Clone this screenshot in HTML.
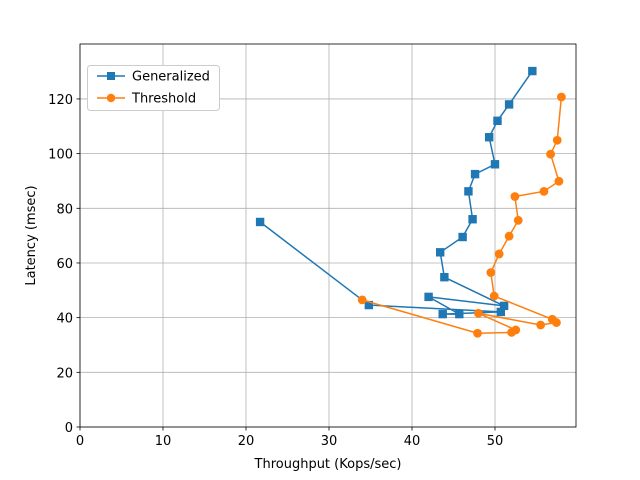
<!DOCTYPE html>
<html><head><meta charset="utf-8"><style>body{margin:0;background:#fff}svg{display:block;font-family:"DejaVu Sans","Liberation Sans",sans-serif}</style></head>
<body>
<svg id="c" width="640" height="480"></svg>
<script>
const xTicks=[0,10,20,30,40,50];
const yTicks=[0,20,40,60,80,100,120];
const genX=[54.5,51.7,50.3,49.3,50.0,47.6,46.8,47.3,46.1,43.4,43.9,51.1,42.0,45.7,43.7,50.7,34.8,21.7];
const genY=[130.2,118.0,112.0,106.0,96.1,92.5,86.2,76.0,69.5,63.9,54.8,44.3,47.6,41.3,41.3,42.1,44.6,75.0];
const thrX=[58.0,57.5,56.7,57.7,55.9,52.4,52.8,51.7,50.5,49.5,49.9,56.9,57.4,55.5,48.0,52.5,52.0,47.9,34.0];
const thrY=[120.7,104.9,99.8,89.9,86.2,84.3,75.6,69.8,63.3,56.5,47.9,39.4,38.2,37.3,41.6,35.5,34.6,34.3,46.5];
const L=80,R=576,T=44,B=427,XMAX=59.76,YMAX=140.1;
const sx=v=>L+v/XMAX*(R-L), sy=v=>B-v/YMAX*(B-T);
const svg=document.getElementById('c'),NS='http://www.w3.org/2000/svg';
function mk(t,a,p){const e=document.createElementNS(NS,t);for(const k in a)e.setAttribute(k,a[k]);(p||svg).appendChild(e);return e;}
xTicks.forEach(v=>{const x=sx(v);
 const g=mk('line',{x1:x,x2:x,y1:T,y2:B,stroke:'#b0b0b0','stroke-width':0.8});
 
 
 mk('line',{x1:x,x2:x,y1:B,y2:B+3.5,stroke:'#000','stroke-width':0.8});
 const t=mk('text',{x:x,y:B+18,'text-anchor':'middle','font-size':13});t.textContent=v;
 
 });
yTicks.forEach(v=>{const y=sy(v);
 const g=mk('line',{x1:L,x2:R,y1:y,y2:y,stroke:'#b0b0b0','stroke-width':0.8});
 
 
 mk('line',{x1:L-3.5,x2:L,y1:y,y2:y,stroke:'#000','stroke-width':0.8});
 const t=mk('text',{x:L-7,y:y+5,'text-anchor':'end','font-size':13});t.textContent=v;
 
 });
const fr=mk('rect',{x:L,y:T,width:R-L,height:B-T,fill:'none',stroke:'#000','stroke-width':0.8});


function series(xs,ys,col,sq,name){
 const pl=mk('polyline',{points:xs.map((v,i)=>sx(v)+','+sy(ys[i])).join(' '),fill:'none',stroke:col,'stroke-width':1.5});
 
 
 xs.forEach((v,i)=>{const x=sx(v),y=sy(ys[i]);
  const m=sq?mk('rect',{x:x-4.2,y:y-4.2,width:8.4,height:8.4,fill:col}):mk('circle',{cx:x,cy:y,r:4.4,fill:col});
  
  });
}
series(genX,genY,'#1f77b4',true,'generalized');
series(thrX,thrY,'#ff7f0e',false,'threshold');
const xl=mk('text',{x:(L+R)/2,y:468,'text-anchor':'middle','font-size':13});xl.textContent='Throughput (Kops/sec)';


const yl=mk('text',{x:0,y:0,'text-anchor':'middle','font-size':13,transform:'translate(35,'+((T+B)/2)+') rotate(-90)'});yl.textContent='Latency (msec)';


const lg=mk('g',{});


mk('rect',{x:87.5,y:65.5,width:132,height:45,rx:3,fill:'#fff',stroke:'#ccc'},lg);
mk('line',{x1:97,x2:125,y1:76,y2:76,stroke:'#1f77b4','stroke-width':1.5},lg);
mk('rect',{x:107,y:72,width:8,height:8,fill:'#1f77b4'},lg);
const t1=mk('text',{x:132,y:80.5,'font-size':13},lg);t1.textContent='Generalized';


mk('line',{x1:97,x2:125,y1:98,y2:98,stroke:'#ff7f0e','stroke-width':1.5},lg);
mk('circle',{cx:111,cy:98,r:4.2,fill:'#ff7f0e'},lg);
const t2=mk('text',{x:132,y:102.5,'font-size':13},lg);t2.textContent='Threshold';


</script>
</body></html>
